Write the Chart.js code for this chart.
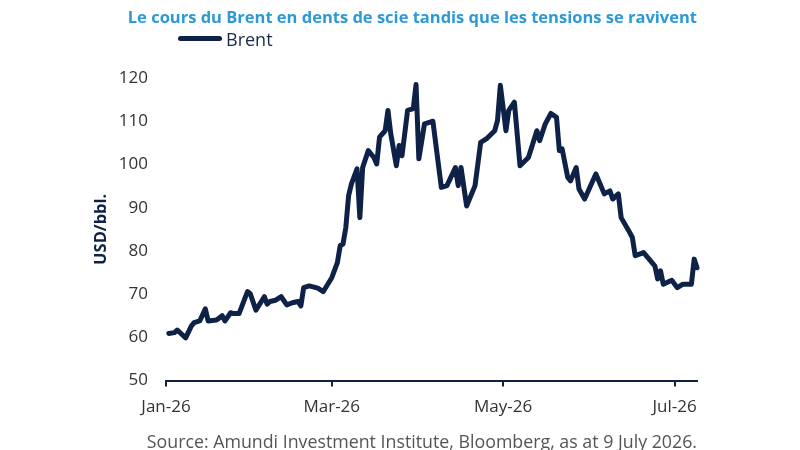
<!DOCTYPE html>
<html>
<head>
<meta charset="utf-8">
<script src="https://cdn.jsdelivr.net/npm/chart.js@4"></script>
<style>
  body { margin: 0; background: #fff; font-family: "Open Sans", sans-serif; }
  #box { position: relative; width: 800px; height: 450px; overflow: hidden; }
  #box canvas { position: absolute; left: 0; top: 0; }
  #title { position: absolute; top: 6px; right: 103px; font-size: 16.5px; font-weight: 700; color: #2b9ad6; line-height: 22px; white-space: nowrap; }
  #legend { position: absolute; top: 27px; left: 178px; height: 23px; display: flex; align-items: center; font-size: 18px; color: #1b2a47; }
  #legend span.swatch { display: inline-block; width: 44px; height: 5px; border-radius: 3px; background: #0e2147; margin-right: 4px; }
  #source { position: absolute; top: 430px; right: 103px; font-size: 17.8px; color: #555; line-height: 22px; white-space: nowrap; }
</style>
</head>
<body>
<div id="box">
  <canvas id="myChart" width="800" height="450"></canvas>
  <div id="title">Le cours du Brent en dents de scie tandis que les tensions se ravivent</div>
  <div id="legend"><span class="swatch"></span>Brent</div>
  <div id="source">Source: Amundi Investment Institute, Bloomberg, as at 9 July 2026.</div>
</div>
<script>
// Brent, USD/bbl.
const dates = [
  '2026-01-02', '2026-01-04', '2026-01-05', '2026-01-08', '2026-01-10', '2026-01-11', '2026-01-13', '2026-01-15',
  '2026-01-16', '2026-01-19', '2026-01-21', '2026-01-22', '2026-01-24', '2026-01-25', '2026-01-27', '2026-01-30', '2026-01-31',
  '2026-02-02', '2026-02-05', '2026-02-06', '2026-02-07', '2026-02-09', '2026-02-11', '2026-02-13', '2026-02-15',
  '2026-02-17', '2026-02-18', '2026-02-19', '2026-02-21', '2026-02-24', '2026-02-26',
  '2026-03-01', '2026-03-03', '2026-03-04', '2026-03-05', '2026-03-06', '2026-03-07', '2026-03-08', '2026-03-10',
  '2026-03-11', '2026-03-12', '2026-03-14', '2026-03-16', '2026-03-17', '2026-03-18', '2026-03-20', '2026-03-21',
  '2026-03-22', '2026-03-24', '2026-03-25', '2026-03-26', '2026-03-28', '2026-03-30', '2026-03-31',
  '2026-04-01', '2026-04-03', '2026-04-05', '2026-04-06', '2026-04-09', '2026-04-11', '2026-04-14', '2026-04-15',
  '2026-04-16', '2026-04-18', '2026-04-21', '2026-04-23', '2026-04-25', '2026-04-28', '2026-04-29', '2026-04-30',
  '2026-05-02', '2026-05-03', '2026-05-05', '2026-05-07', '2026-05-10', '2026-05-13', '2026-05-14', '2026-05-16',
  '2026-05-18', '2026-05-20', '2026-05-21', '2026-05-22', '2026-05-24', '2026-05-25', '2026-05-27', '2026-05-28', '2026-05-30',
  '2026-06-03', '2026-06-06', '2026-06-08', '2026-06-09', '2026-06-11', '2026-06-12', '2026-06-15', '2026-06-16',
  '2026-06-17', '2026-06-20', '2026-06-23', '2026-06-24', '2026-06-25', '2026-06-26', '2026-06-27', '2026-06-30',
  '2026-07-02', '2026-07-04', '2026-07-07', '2026-07-08', '2026-07-09'
];
const brent = [
  60.9, 61.1, 61.7, 59.9, 62.6, 63.4, 63.8, 66.6,
  63.8, 64.0, 65.0, 63.8, 65.7, 65.5, 65.5, 70.6, 70.1,
  66.3, 69.4, 67.7, 68.3, 68.6, 69.4, 67.5, 68.0,
  68.3, 67.3, 71.5, 71.9, 71.4, 70.6,
  73.8, 77.3, 81.2, 81.6, 85.4, 92.8, 95.5, 99.0,
  87.7, 99.3, 103.2, 101.6, 100.1, 106.3, 107.8, 112.5,
  107.1, 99.7, 104.4, 102.0, 112.5, 112.9, 118.5,
  101.3, 109.4, 109.8, 110.0, 94.7, 95.1, 99.3, 95.1,
  99.3, 90.4, 95.1, 105.1, 105.9, 107.8, 110.2, 118.3,
  107.8, 112.5, 114.4, 99.7, 101.6, 107.8, 105.5, 109.4,
  111.8, 110.9, 103.2, 103.6, 97.0, 96.2, 99.3, 94.3, 92.0,
  97.8, 93.2, 93.9, 92.0, 93.2, 87.7, 84.3, 83.1,
  78.9, 79.6, 77.3, 76.5, 73.5, 75.4, 72.3, 73.2,
  71.5, 72.3, 72.3, 78.1, 76.1
];

// Axe des x
const tickDates = ['2026-01-01', '2026-03-01', '2026-05-01', '2026-07-01'];
const tickLabels = ['Jan-26', 'Mar-26', 'May-26', 'Jul-26'];

const navy = '#0e2147';
const start = Date.parse('2026-01-01');
const dayOf = d => Math.round((Date.parse(d) - start) / 86400000);
const tickDays = tickDates.map(dayOf);

const ctx = document.getElementById('myChart').getContext('2d');
const chart = new Chart(ctx, {
    type: 'line',
    data: {
        datasets: [{
            label: 'Brent',
            data: dates.map((d, i) => ({ x: dayOf(d), y: brent[i] })),
            borderColor: navy,
            borderWidth: 5,
            borderJoinStyle: 'round',
            borderCapStyle: 'round',
            pointRadius: 0,
            tension: 0,
            fill: false,
            clip: false
        }]
    },
    options: {
        responsive: false,
        animation: false,
        layout: { padding: { left: 91, right: 103, top: 78, bottom: 23 } },
        plugins: {
            legend: { display: false },
            title: { display: false },
            tooltip: { enabled: false }
        },
        scales: {
            x: {
                type: 'linear',
                min: 0,
                max: dayOf(dates[dates.length - 1]),
                afterBuildTicks: scale => { scale.ticks = tickDays.map(v => ({ value: v })); },
                ticks: {
                    callback: (v, i) => tickLabels[i],
                    autoSkip: false,
                    maxRotation: 0,
                    padding: 10,
                    color: '#333',
                    font: { family: 'Open Sans', size: 17 }
                },
                grid: { drawOnChartArea: false, tickLength: 6, color: navy, lineWidth: 2 },
                border: { display: true, color: navy, width: 2 }
            },
            y: {
                min: 50,
                max: 120,
                afterFit: scale => { scale.width = 75; },
                ticks: {
                    stepSize: 10,
                    padding: 18,
                    color: '#333',
                    font: { family: 'Open Sans', size: 17 }
                },
                grid: { display: false, drawTicks: false },
                border: { display: false },
                title: {
                    display: true,
                    text: 'USD/bbl.',
                    color: navy,
                    padding: { top: 0, bottom: 0 },
                    font: { family: 'Open Sans', size: 16.5, weight: 'bold' }
                }
            }
        }
    }
});
</script>
</body>
</html>
